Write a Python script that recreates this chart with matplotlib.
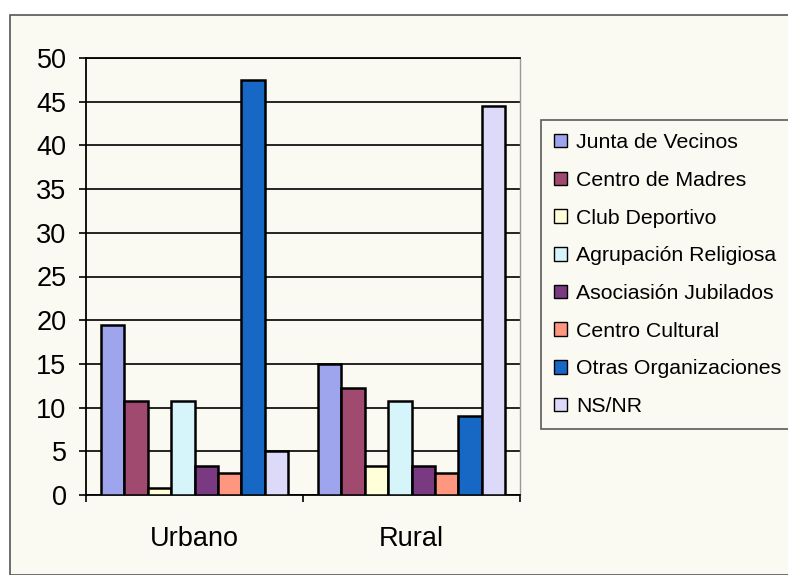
import numpy as np
import matplotlib
matplotlib.use("Agg")
import matplotlib.pyplot as plt
from matplotlib.patches import Rectangle

plt.rcParams['font.family'] = ['Liberation Sans', 'DejaVu Sans']

# data
zones = ['Urbano', 'Rural']
series = ['Junta de Vecinos', 'Centro de Madres', 'Club Deportivo',
          'Agrupación Religiosa', 'Asociasión Jubilados', 'Centro Cultural',
          'Otras Organizaciones', 'NS/NR']
urbano = [19.5, 10.8, 0.8, 10.8, 3.3, 2.5, 47.5, 5.0]
rural = [15.0, 12.2, 3.3, 10.8, 3.3, 2.5, 9.0, 44.5]
yticks = list(range(0, 51, 5))

colors = ['#9FA5EC', '#A04A70', '#FFFFD8', '#D5F5FA',
          '#7A3A82', '#FF9680', '#1768C4', '#DCDAF8']
cream = '#FBFAF2'

W, H = 788, 575
fig = plt.figure(figsize=(W / 100, H / 100), dpi=100)
fig.patch.set_facecolor('white')

# outer chart border
fig.patches.append(Rectangle((10 / W, 0), 1.0, 1 - 15 / H, transform=fig.transFigure,
                             facecolor=cream, edgecolor='#555555', linewidth=1.2,
                             zorder=-5))

ax = fig.add_axes([86 / W, 80 / H, 434 / W, 437 / H])
ax.set_facecolor(cream)

values = np.array([urbano, rural])
x = np.arange(len(zones))
n = len(series)
width = 0.862 / n
handles = []
for i in range(n):
    b = ax.bar(x + (i - (n - 1) / 2) * width, values[:, i], width,
               color=colors[i], edgecolor='black', linewidth=1.8,
               label=series[i], zorder=3)
    handles.append(b)

ax.set_xlim(-0.5, 1.5)
ax.set_ylim(0, 50)
ax.set_yticks(yticks)
ax.yaxis.grid(True, color='black', linewidth=1.2, zorder=1)
ax.set_axisbelow(True)

ax.set_xticks(x)
ax.set_xticklabels(zones)
ax.set_xticks([-0.5, 0.5, 1.5], minor=True)
ax.tick_params(axis='x', which='major', length=0, pad=22, labelsize=19.5)
ax.tick_params(axis='x', which='minor', length=5, width=1.2, direction='out')
ax.tick_params(axis='y', length=5, width=1.2, direction='out', pad=9,
               labelsize=19.5)

for s in ['left', 'bottom', 'top']:
    ax.spines[s].set_color('black')
    ax.spines[s].set_linewidth(1.3)
ax.spines['right'].set_color('#999999')
ax.spines['right'].set_linewidth(1.0)
ax.spines['right'].set_linestyle((0, (2, 1)))

leg = fig.legend(handles=handles, labels=series, loc='upper left',
                 bbox_to_anchor=(541 / W, 1 - 120 / H), borderaxespad=0,
                 fontsize=15.3, frameon=True, fancybox=False,
                 handlelength=0.6, handleheight=0.6, handletextpad=0.45,
                 labelspacing=0.88, borderpad=0.62)
leg.get_frame().set_edgecolor('#333333')
leg.get_frame().set_facecolor(cream)
leg.get_frame().set_linewidth(1.2)
for p in leg.get_patches():
    p.set_linewidth(1.0)

fig.savefig('out.png', dpi=100, facecolor=fig.get_facecolor())
